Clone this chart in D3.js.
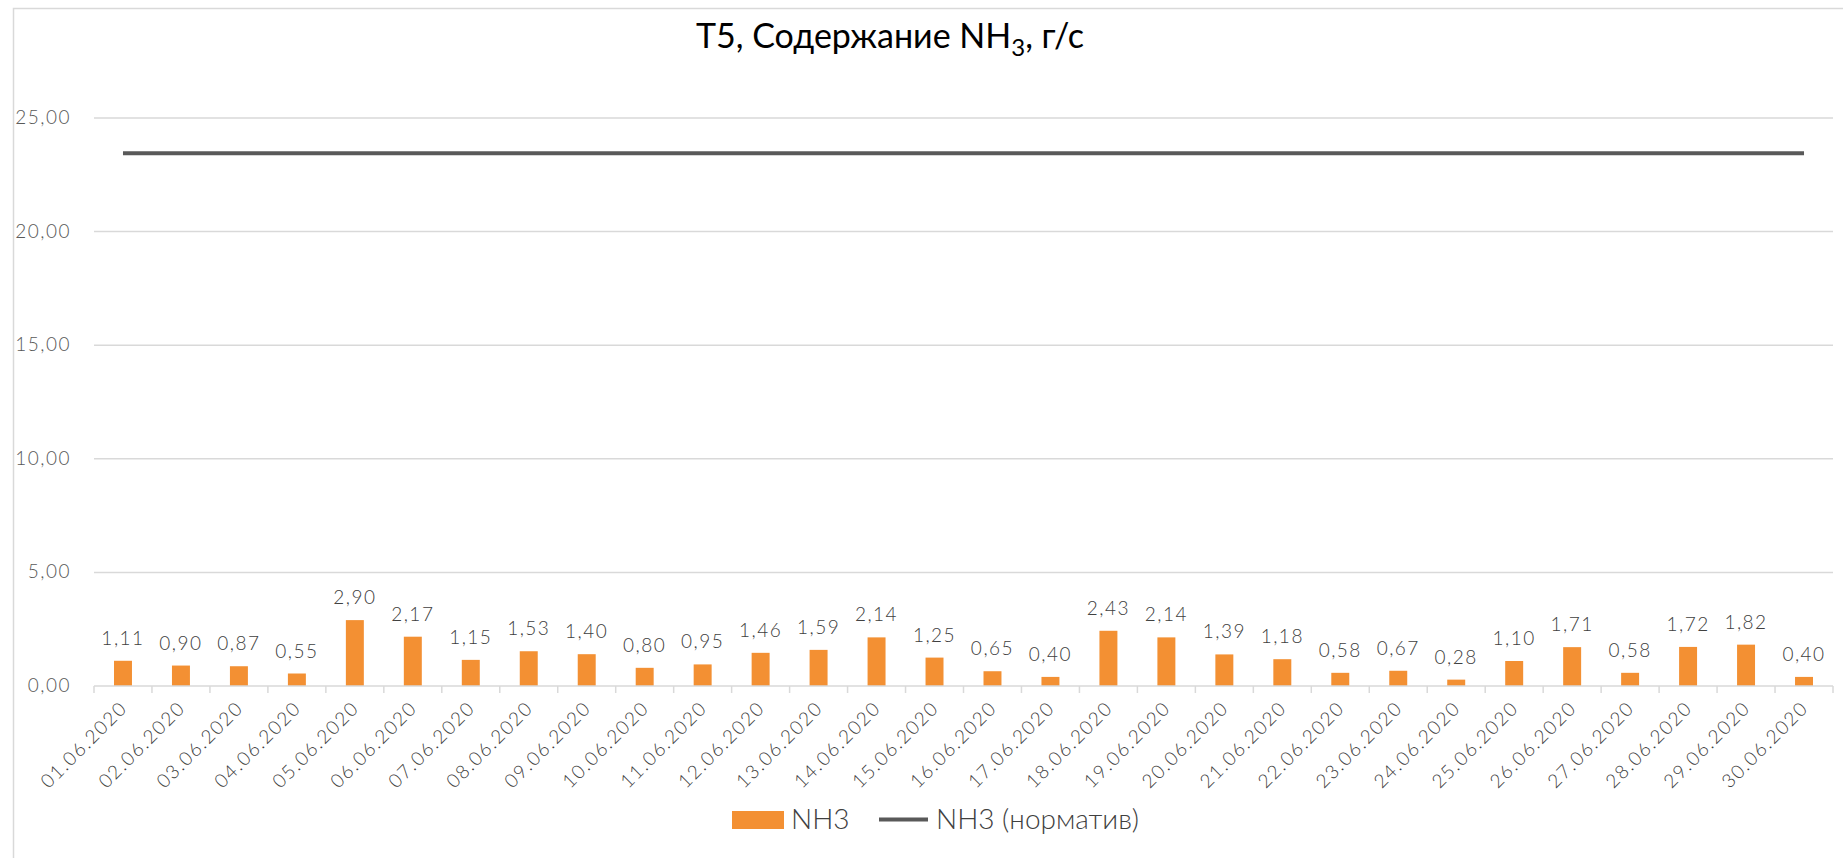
<!DOCTYPE html>
<html>
<head>
<meta charset="utf-8">
<script src="https://cdn.jsdelivr.net/npm/d3@7"></script>
<style>
  body { margin: 0; background: #fff; }
  text { font-family: Lato, "Open Sans", sans-serif; }
  .num { font-weight: 300; }
</style>
</head>
<body>
<div id="chart"></div>
<script>
'use strict';

const dates = [];
for (let d = 1; d <= 30; d++) dates.push((d < 10 ? '0' : '') + d + '.06.2020');
const nh3 = [1.11, 0.90, 0.87, 0.55, 2.90, 2.17, 1.15, 1.53, 1.40, 0.80,
             0.95, 1.46, 1.59, 2.14, 1.25, 0.65, 0.40, 2.43, 2.14, 1.39,
             1.18, 0.58, 0.67, 0.28, 1.10, 1.71, 0.58, 1.72, 1.82, 0.40];
const norm = 23.45;
const yTicks = [0, 5, 10, 15, 20, 25];

const W = 1843, H = 858;
const plotLeft = 94, plotRight = 1833, plotTop = 118, plotBottom = 686;
const fmt = v => d3.format('.2f')(v).replace('.', ',');

const svg = d3.select('#chart').append('svg')
  .attr('width', W).attr('height', H);

// chart border
svg.append('rect')
  .attr('x', 13.5).attr('y', 8.5)
  .attr('width', 2000).attr('height', 2000)
  .attr('fill', 'none').attr('stroke', '#d9d9d9').attr('stroke-width', 1.5);

const x = d3.scaleBand().domain(dates).range([plotLeft, plotRight]).paddingInner(0.69).paddingOuter(0.345);
const y = d3.scaleLinear().domain([0, 25]).range([plotBottom, plotTop]);

// grid
svg.append('g').selectAll('line')
  .data(yTicks.filter(v => v > 0))
  .enter().append('line')
    .attr('x1', plotLeft).attr('x2', plotRight)
    .attr('y1', d => y(d)).attr('y2', d => y(d))
    .attr('stroke', '#d9d9d9').attr('stroke-width', 1.5);

// y labels
svg.append('g').selectAll('text')
  .data(yTicks)
  .enter().append('text')
    .attr('class', 'num')
    .attr('x', 71).attr('y', d => y(d) + 6)
    .attr('text-anchor', 'end')
    .attr('fill', '#595959')
    .style('font-size', '19px').style('letter-spacing', '1.5px')
    .text(fmt);

// bars
svg.append('g').selectAll('rect')
  .data(nh3)
  .enter().append('rect')
    .attr('x', (d, i) => x(dates[i]))
    .attr('width', x.bandwidth())
    .attr('y', d => y(d))
    .attr('height', d => y(0) - y(d))
    .attr('fill', '#f39033');

// data labels
svg.append('g').selectAll('text')
  .data(nh3)
  .enter().append('text')
    .attr('class', 'num')
    .attr('x', (d, i) => x(dates[i]) + x.bandwidth() / 2)
    .attr('y', d => y(d) - 16)
    .attr('text-anchor', 'middle')
    .attr('fill', '#404040')
    .style('font-size', '19px').style('letter-spacing', '1.5px')
    .text(fmt);

// x axis line and ticks
svg.append('line')
  .attr('x1', plotLeft).attr('x2', plotRight)
  .attr('y1', plotBottom).attr('y2', plotBottom)
  .attr('stroke', '#d9d9d9').attr('stroke-width', 1.5);
const step = x.step();
svg.append('g').selectAll('line')
  .data(d3.range(dates.length + 1))
  .enter().append('line')
    .attr('x1', i => plotLeft + i * step).attr('x2', i => plotLeft + i * step)
    .attr('y1', plotBottom).attr('y2', plotBottom + 7)
    .attr('stroke', '#d9d9d9').attr('stroke-width', 1.5);

// x labels
svg.append('g').selectAll('text')
  .data(dates)
  .enter().append('text')
    .attr('class', 'num')
    .attr('transform', d => 'translate(' + (x(d) + x.bandwidth() / 2 - 4) + ',' + (plotBottom + 14) + ') rotate(-45)')
    .attr('text-anchor', 'end')
    .attr('dy', '0.7em')
    .attr('fill', '#404040')
    .style('font-size', '19px').style('letter-spacing', '1.6px')
    .text(d => d);

// norm line
const cx = d => x(d) + x.bandwidth() / 2;
svg.append('path')
  .datum(dates)
  .attr('d', d3.line().x(cx).y(() => y(norm)))
  .attr('fill', 'none').attr('stroke', '#595959').attr('stroke-width', 4);

// title
const title = svg.append('text')
  .attr('x', 890).attr('y', 48)
  .attr('text-anchor', 'middle')
  .attr('fill', '#000')
  .style('font-size', '34px');
title.append('tspan').text('Т5, Содержание NH');
title.append('tspan').attr('dy', 8).style('font-size', '24px').text('3');
title.append('tspan').attr('dy', -8).text(', г/с');

// legend
const lg = svg.append('g');
lg.append('rect').attr('x', 732).attr('y', 811).attr('width', 52).attr('height', 18).attr('fill', '#f39033');
lg.append('text').attr('class', 'num').attr('x', 791).attr('y', 829).attr('fill', '#404040').style('font-size', '28px').text('NH3');
lg.append('line').attr('x1', 879).attr('x2', 928).attr('y1', 819.5).attr('y2', 819.5)
  .attr('stroke', '#595959').attr('stroke-width', 4);
lg.append('text').attr('class', 'num').attr('x', 936).attr('y', 829).attr('fill', '#404040').style('font-size', '28px').text('NH3 (норматив)');
</script>
</body>
</html>
